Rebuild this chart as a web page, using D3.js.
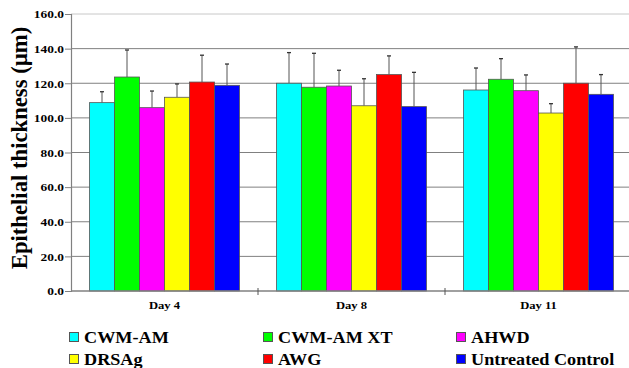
<!DOCTYPE html>
<html><head><meta charset="utf-8">
<script src="https://cdnjs.cloudflare.com/ajax/libs/d3/7.8.5/d3.min.js"></script>
<style>body{margin:0;background:#fff}svg{display:block}</style>
</head><body><svg id="c" width="629" height="368"></svg>
<script>
const categories = ["Day 4", "Day 8", "Day 11"];
const seriesNames = ["CWM-AM", "CWM-AM XT", "AHWD", "DRSAg", "AWG", "Untreated Control"];
const seriesColors = ["#00FFFF", "#00FF00", "#FF00FF", "#FFFF00", "#FF0000", "#0000FF"];
const cwmAm      = [108.8, 120.0, 116.1];
const cwmAmXt    = [123.6, 117.7, 122.3];
const ahwd       = [105.9, 118.4, 115.7];
const drsag      = [111.9, 107.0, 102.8];
const awg        = [120.7, 125.0, 120.0];
const untreated  = [118.8, 106.5, 113.6];
const errCwmAm     = [6.3, 17.7, 12.7];
const errCwmAmXt   = [15.6, 19.6, 11.9];
const errAhwd      = [9.6, 9.1, 9.1];
const errDrsag     = [7.7, 15.6, 5.4];
const errAwg       = [15.5, 10.8, 21.0];
const errUntreated = [12.3, 19.8, 11.4];
const yTicks = [0, 20, 40, 60, 80, 100, 120, 140, 160];

const values = [cwmAm, cwmAmXt, ahwd, drsag, awg, untreated];
const errors = [errCwmAm, errCwmAmXt, errAhwd, errDrsag, errAwg, errUntreated];
const FONT = "Liberation Serif";

const svg = d3.select("#c");
const L = 71, R = 632, T = 14, B = 291;
const x0 = d3.scaleBand().domain(categories).range([L, R]).paddingInner(0).paddingOuter(0);
const x1 = d3.scaleBand().domain(seriesNames).range([18.5, x0.bandwidth() - 18.5]).padding(0);
const y = d3.scaleLinear().domain([0, 160]).range([B, T]);

// gridlines
svg.append("g").selectAll("line").data(yTicks.filter(d => d > 0)).join("line")
  .attr("x1", L).attr("x2", R).attr("y1", d => y(d)).attr("y2", d => y(d))
  .attr("stroke", d => d === 160 ? "#c8c8c8" : "#808080").attr("stroke-width", 1);

// y axis
const ya = svg.append("g").attr("transform", `translate(${L},0)`)
  .call(d3.axisLeft(y).tickValues(yTicks).tickFormat(d3.format(".1f")).tickSize(6).tickPadding(3));
ya.attr("font-family", FONT).attr("font-size", 11).attr("font-weight", "bold");
ya.select(".domain").attr("stroke", "#808080").attr("stroke-width", 1.2);
ya.selectAll(".tick line").attr("stroke", "#808080");
ya.selectAll(".tick text")
  .attr("x", 0).attr("dy", "0.35em")
  .attr("transform", "translate(-7,0) scale(1.22,1)")
  .attr("font-family", FONT).attr("font-weight", "bold").attr("font-size", 11).attr("fill", "#000");

// bars
const groups = svg.append("g").selectAll("g").data(categories).join("g")
  .attr("transform", c => `translate(${x0(c)},0)`);
seriesNames.forEach((s, si) => {
  const cx = x1(s) + x1.bandwidth() / 2;
  groups.append("line")
    .attr("x1", cx).attr("x2", cx)
    .attr("y1", (c, ci) => y(values[si][ci]))
    .attr("y2", (c, ci) => y(values[si][ci] + errors[si][ci]))
    .attr("stroke", "#555").attr("stroke-width", 1);
  groups.append("line")
    .attr("x1", cx - 2).attr("x2", cx + 2)
    .attr("y1", (c, ci) => y(values[si][ci] + errors[si][ci]))
    .attr("y2", (c, ci) => y(values[si][ci] + errors[si][ci]))
    .attr("stroke", "#333").attr("stroke-width", 1.3);
});
seriesNames.forEach((s, si) => {
  groups.append("rect")
    .attr("x", x1(s)).attr("width", x1.bandwidth())
    .attr("y", (c, ci) => y(values[si][ci]))
    .attr("height", (c, ci) => y(0) - y(values[si][ci]))
    .attr("fill", seriesColors[si]).attr("stroke", "#555").attr("stroke-width", 0.8);
});

// x axis
const xa = svg.append("g").attr("transform", `translate(0,${B})`);
xa.append("line").attr("x1", L).attr("x2", R).attr("stroke", "#808080").attr("stroke-width", 1.5);
xa.selectAll("line.t").data(categories.slice(1)).join("line").attr("class", "t")
  .attr("x1", c => x0(c)).attr("x2", c => x0(c)).attr("y1", -3).attr("y2", 4).attr("stroke", "#555");
xa.selectAll("text").data(categories).join("text")
  .attr("transform", c => `translate(${x0(c) + x0.bandwidth() / 2},17.5) scale(1.2,1)`)
  .attr("text-anchor", "middle")
  .attr("font-family", FONT).attr("font-weight", "bold").attr("font-size", 10.5).attr("fill", "#000")
  .text(c => c);

// y label
svg.append("text").attr("transform", "translate(27,148) rotate(-90)")
  .attr("text-anchor", "middle")
  .attr("font-family", FONT).attr("font-weight", "bold").attr("font-size", 22.7).attr("fill", "#000")
  .text("Epithelial thickness (µm)");

// legend
const legX = [69, 263, 456], legY = [343, 365];
const leg = svg.append("g").selectAll("g").data(seriesNames).join("g")
  .attr("transform", (d, i) => `translate(${legX[i % 3]},${legY[Math.floor(i / 3)]})`);
leg.append("rect").attr("x", 0.5).attr("y", -10.5).attr("width", 9).attr("height", 9)
  .attr("fill", (d, i) => seriesColors[i]).attr("stroke", "#555").attr("stroke-width", 1);
leg.append("text").attr("transform", "translate(15,0) scale(1.07,1)")
  .attr("font-family", FONT).attr("font-weight", "bold").attr("font-size", 17).attr("fill", "#000")
  .text(d => d);
</script></body></html>
